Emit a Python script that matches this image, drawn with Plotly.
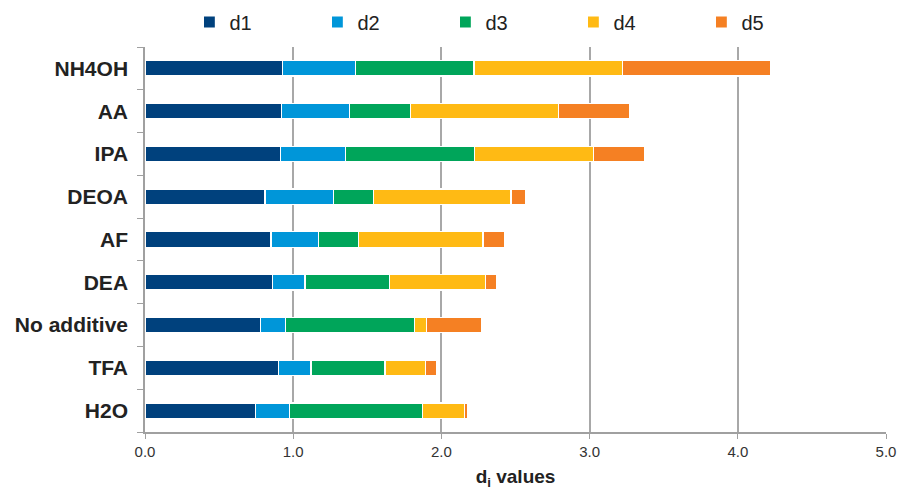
import plotly.graph_objects as go

categories = ["NH4OH", "AA", "IPA", "DEOA", "AF", "DEA", "No additive", "TFA", "H2O"]
series_names = ["d1", "d2", "d3", "d4", "d5"]
d1 = [0.93, 0.92, 0.915, 0.81, 0.85, 0.86, 0.78, 0.90, 0.745]
d2 = [0.49, 0.46, 0.44, 0.46, 0.32, 0.22, 0.17, 0.22, 0.23]
d3 = [0.80, 0.41, 0.87, 0.27, 0.27, 0.57, 0.87, 0.50, 0.90]
d4 = [1.00, 1.00, 0.80, 0.93, 0.84, 0.65, 0.08, 0.27, 0.28]
d5 = [1.00, 0.48, 0.345, 0.10, 0.145, 0.075, 0.37, 0.08, 0.02]
series_values = [d1, d2, d3, d4, d5]
colors = ["#00417D", "#0096D9", "#00A55A", "#FFBA14", "#F58023"]
x_ticks = [0, 1, 2, 3, 4, 5]
x_tick_labels = ["0.0", "1.0", "2.0", "3.0", "4.0", "5.0"]

fig = go.Figure()
for name, vals, col in zip(series_names, series_values, colors):
    fig.add_trace(go.Bar(
        y=categories, x=vals, name=name, orientation="h",
        marker=dict(color=col, line=dict(color="white", width=1.2)),
    ))

fig.update_layout(
    barmode="stack",
    bargap=0.64,
    width=902, height=490,
    margin=dict(l=145, r=16, t=47, b=58, autoexpand=False),
    paper_bgcolor="white", plot_bgcolor="white",
    font=dict(family="Liberation Sans, Arial, sans-serif", color="#222222"),
    legend=dict(
        orientation="h", xref="container", yref="container",
        x=0.21, xanchor="left", y=1 - 22 / 490, yanchor="middle",
        font=dict(size=20, color="#222222"),
        entrywidth=83, entrywidthmode="pixels",
        traceorder="normal",
    ),
    xaxis=dict(
        range=[0, 5], tickvals=x_ticks, ticktext=x_tick_labels,
        showgrid=True, gridcolor="#A8A8A8", gridwidth=1.5,
        showline=True, linecolor="#A0A0A0", linewidth=1.5,
        ticks="outside", ticklen=5, tickcolor="#A0A0A0",
        tickfont=dict(size=15, color="#333333"),
        zeroline=False, automargin=False,
        title=dict(text="<b>d<sub>i</sub> values</b>", font=dict(size=19, color="#222222", family="Liberation Sans, Arial, sans-serif"), standoff=22),
    ),
    yaxis=dict(
        categoryorder="array", categoryarray=categories, autorange="reversed",
        showline=True, linecolor="#A0A0A0", linewidth=1.5,
        ticks="outside", ticklen=6, tickcolor="#A0A0A0", tickson="boundaries",
        tickfont=dict(size=21, color="#222222"),
        tickvals=categories,
        ticktext=["<b>%s</b>" % c for c in categories],
        ticklabelstandoff=11, automargin=False,
        showgrid=False,
    ),
)

fig.write_html("out.html", config={"displayModeBar": False},
               post_script="document.body.style.margin='0';")
